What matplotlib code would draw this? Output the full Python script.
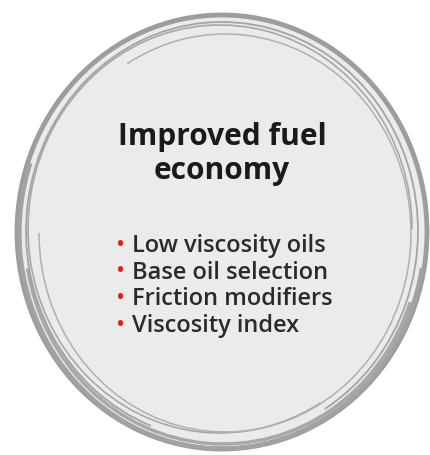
import matplotlib
matplotlib.use("Agg")
import matplotlib.pyplot as plt
from matplotlib.patches import Ellipse, Arc

title_lines = ["Improved fuel", "economy"]
bullet_items = ["Low viscosity oils", "Base oil selection", "Friction modifiers", "Viscosity index"]

W, H = 430, 455
fig = plt.figure(figsize=(W / 100, H / 100), dpi=100)
ax = fig.add_axes([0, 0, 1, 1])
ax.set_xlim(0, W)
ax.set_ylim(H, 0)
ax.axis("off")
fig.patch.set_facecolor("white")

cx, cy = 222, 232
ax.add_patch(Ellipse((cx, cy), 410, 434, facecolor="#ebebec", edgecolor="none", zorder=1))

ring = "#9d9d9d"
# outer thick ring
ax.add_patch(Ellipse((cx, cy), 410, 434, facecolor="none", edgecolor=ring, lw=3.5, zorder=2))
ax.add_patch(Arc((cx, cy + 1), 405, 431, theta1=10, theta2=200, edgecolor="#a2a2a2", lw=3.0, zorder=2))
ax.add_patch(Arc((cx + 1, cy + 2), 396, 420, theta1=20, theta2=170, edgecolor="#a8a8a8", lw=2.5, zorder=2))
# inner sketchy rings
ax.add_patch(Arc((cx - 2, cy - 3), 384, 408, theta1=60, theta2=360, edgecolor="#a8a8a8", lw=1.2, zorder=2))
ax.add_patch(Arc((cx + 3, cy + 1), 372, 398, theta1=240, theta2=540, edgecolor="#b0b0b0", lw=1.1, zorder=2))
ax.add_patch(Arc((cx, cy - 1), 392, 418, theta1=110, theta2=420, edgecolor="#a4a4a4", lw=1.3, zorder=2))

fam = ["Open Sans", "DejaVu Sans"]
title_base = [145, 179]
for t, yb in zip(title_lines, title_base):
    ax.text(cx, yb, t, ha="center", va="baseline", fontsize=21.5, fontweight="bold",
            color="#1a1a1a", family=fam, zorder=3)

y0, dy = 252, 26.7
for i, item in enumerate(bullet_items):
    y = y0 + i * dy
    ax.text(121, y - 6.5, "•", ha="center", va="center", fontsize=17, color="#e0201b", family=fam, zorder=3)
    ax.text(132, y, item, ha="left", va="baseline", fontsize=17, fontweight="semibold",
            color="#2a2a2a", family=fam, zorder=3)

fig.savefig("out.png", dpi=100, facecolor="white")
